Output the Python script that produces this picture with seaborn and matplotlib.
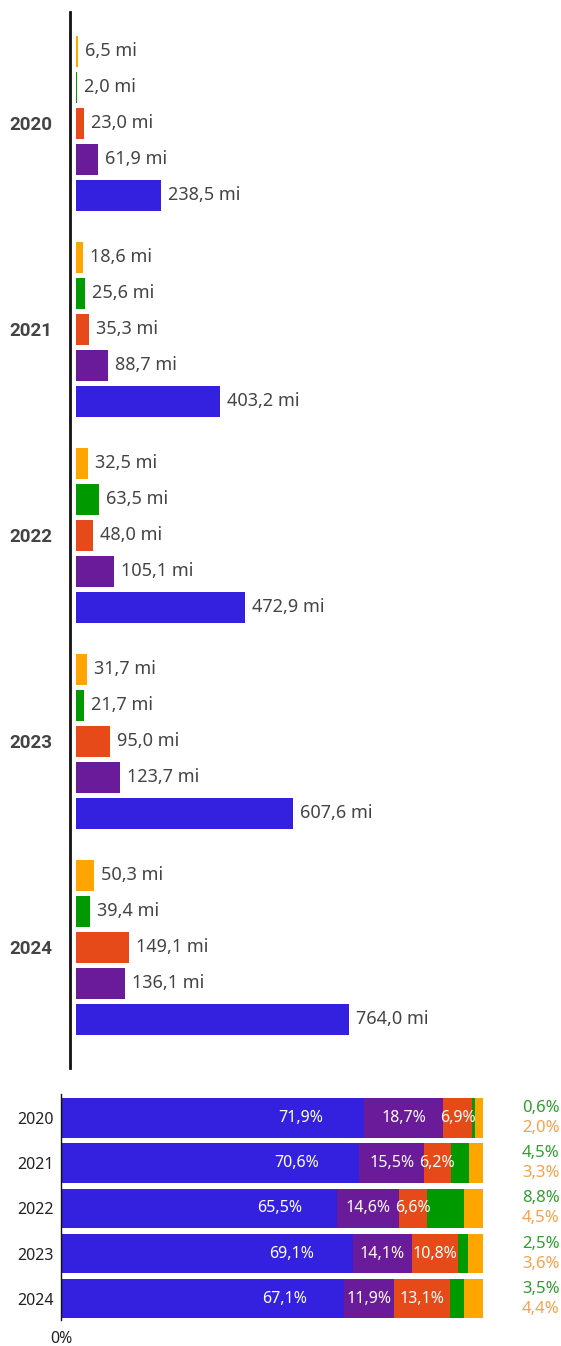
import pandas as pd
import matplotlib.pyplot as plt
import seaborn as sns

# Data
anos = ["2020", "2021", "2022", "2023", "2024"]

serie_azul = [238.5, 403.2, 472.9, 607.6, 764.0]
serie_roxa = [61.9, 88.7, 105.1, 123.7, 136.1]
serie_vermelha = [23.0, 35.3, 48.0, 95.0, 149.1]
serie_verde = [2.0, 25.6, 63.5, 21.7, 39.4]
serie_laranja = [6.5, 18.6, 32.5, 31.7, 50.3]

pct_azul = [71.9, 70.6, 65.5, 69.1, 67.1]
pct_roxa = [18.7, 15.5, 14.6, 14.1, 11.9]
pct_vermelha = [6.9, 6.2, 6.6, 10.8, 13.1]
pct_verde = [0.6, 4.5, 8.8, 2.5, 3.5]
pct_laranja = [2.0, 3.3, 4.5, 3.6, 4.4]

# Styles
AZUL = "#3421E0"
ROXO = "#6A1B9A"
VERMELHO = "#E64A19"
VERDE = "#009A00"
LARANJA = "#FFA500"
TEXTO = "#444444"

sns.set_style("white")
plt.rcParams["font.family"] = ["Noto Sans", "DejaVu Sans"]


def fmt_mi(v):
    return f"{v:.1f}".replace(".", ",") + " mi"


def fmt_pct(v):
    return f"{v:.1f}".replace(".", ",") + "%"


fig = plt.figure(figsize=(5.61, 13.46), dpi=100)

# Top chart: grouped bars
ax1 = fig.add_axes([70 / 561, 1 - 1068 / 1346, 1 - 70 / 561, 1056 / 1346])

nomes = ["laranja", "verde", "vermelha", "roxa", "azul"]
valores = [serie_laranja, serie_verde, serie_vermelha, serie_roxa, serie_azul]
cores = [LARANJA, VERDE, VERMELHO, ROXO, AZUL]

df_top = pd.DataFrame({
    "ano": anos * len(nomes),
    "serie": [n for n in nomes for _ in anos],
    "valor": [v for vals in valores for v in vals],
})

sns.barplot(
    data=df_top, y="ano", x="valor", hue="serie",
    hue_order=nomes, palette=cores, orient="y", saturation=1,
    width=0.874, gap=0.14, legend=False, linewidth=0, ax=ax1,
)

for container, vals in zip(ax1.containers, valores):
    ax1.bar_label(
        container,
        labels=[fmt_mi(v) for v in vals],
        padding=5,
        color=TEXTO,
        fontsize=13,
    )

ax1.set_xlim(-16.8, 1357)
ax1.set_ylim(4.587, -0.539)
ax1.set_xlabel("")
ax1.set_ylabel("")
ax1.set_xticks([])
ax1.set_yticks(range(len(anos)))
ax1.set_yticklabels(anos, family=["Roboto", "DejaVu Sans"], fontweight="bold",
                    fontsize=13.5, color=TEXTO)
ax1.tick_params(axis="y", length=0, pad=12.5)
for s in ["top", "right", "bottom"]:
    ax1.spines[s].set_visible(False)
ax1.spines["left"].set_linewidth(2)
ax1.spines["left"].set_color("#111111")

# Bottom chart: 100% stacked bars
ax2 = fig.add_axes([61 / 561, 1 - 1320 / 1346, 1 - 61 / 561, 226 / 1346])

partes = [pct_azul, pct_roxa, pct_vermelha, pct_verde, pct_laranja]
cores_pilha = [AZUL, ROXO, VERMELHO, VERDE, LARANJA]

acum = []
total = [0.0] * len(anos)
for p in partes:
    total = [t + v / 100 for t, v in zip(total, p)]
    acum.append(total)

# draw cumulative from the right-most segment back to the first
for cum, cor in zip(reversed(acum), reversed(cores_pilha)):
    sns.barplot(x=cum, y=anos, color=cor, orient="y", width=0.87,
                saturation=1, linewidth=0, ax=ax2)

inicio = [[0.0] * len(anos)] + acum[:-1]
for i in range(len(anos)):
    # blue label sits toward the right of its segment
    ax2.text(inicio[0][i] + (acum[0][i] - inicio[0][i]) * 0.79, i,
             fmt_pct(pct_azul[i]), color="white", fontsize=11.5,
             ha="center", va="center")
    for k in (1, 2):
        ax2.text((inicio[k][i] + acum[k][i]) / 2, i,
                 fmt_pct(partes[k][i]), color="white", fontsize=11.5,
                 ha="center", va="center")
    ax2.text(1.092, i - 0.22, fmt_pct(pct_verde[i]), color="#2E9E2E",
             fontsize=12, ha="left", va="center")
    ax2.text(1.092, i + 0.22, fmt_pct(pct_laranja[i]), color="#F7A24A",
             fontsize=12, ha="left", va="center")

ax2.set_xlim(0, 500 / 422)
ax2.set_ylim(4.47, -0.53)
ax2.set_xlabel("")
ax2.set_ylabel("")
ax2.set_xticks([0])
ax2.set_xticklabels(["0%"])
ax2.tick_params(axis="x", length=0, pad=8, labelsize=11.5, labelcolor="#222222")
ax2.tick_params(axis="y", length=0, pad=5, labelsize=11.5, labelcolor="#222222")
for s in ["top", "right", "bottom"]:
    ax2.spines[s].set_visible(False)
ax2.spines["left"].set_linewidth(1)
ax2.spines["left"].set_color("#111111")

fig.savefig("out.png", dpi=100)
